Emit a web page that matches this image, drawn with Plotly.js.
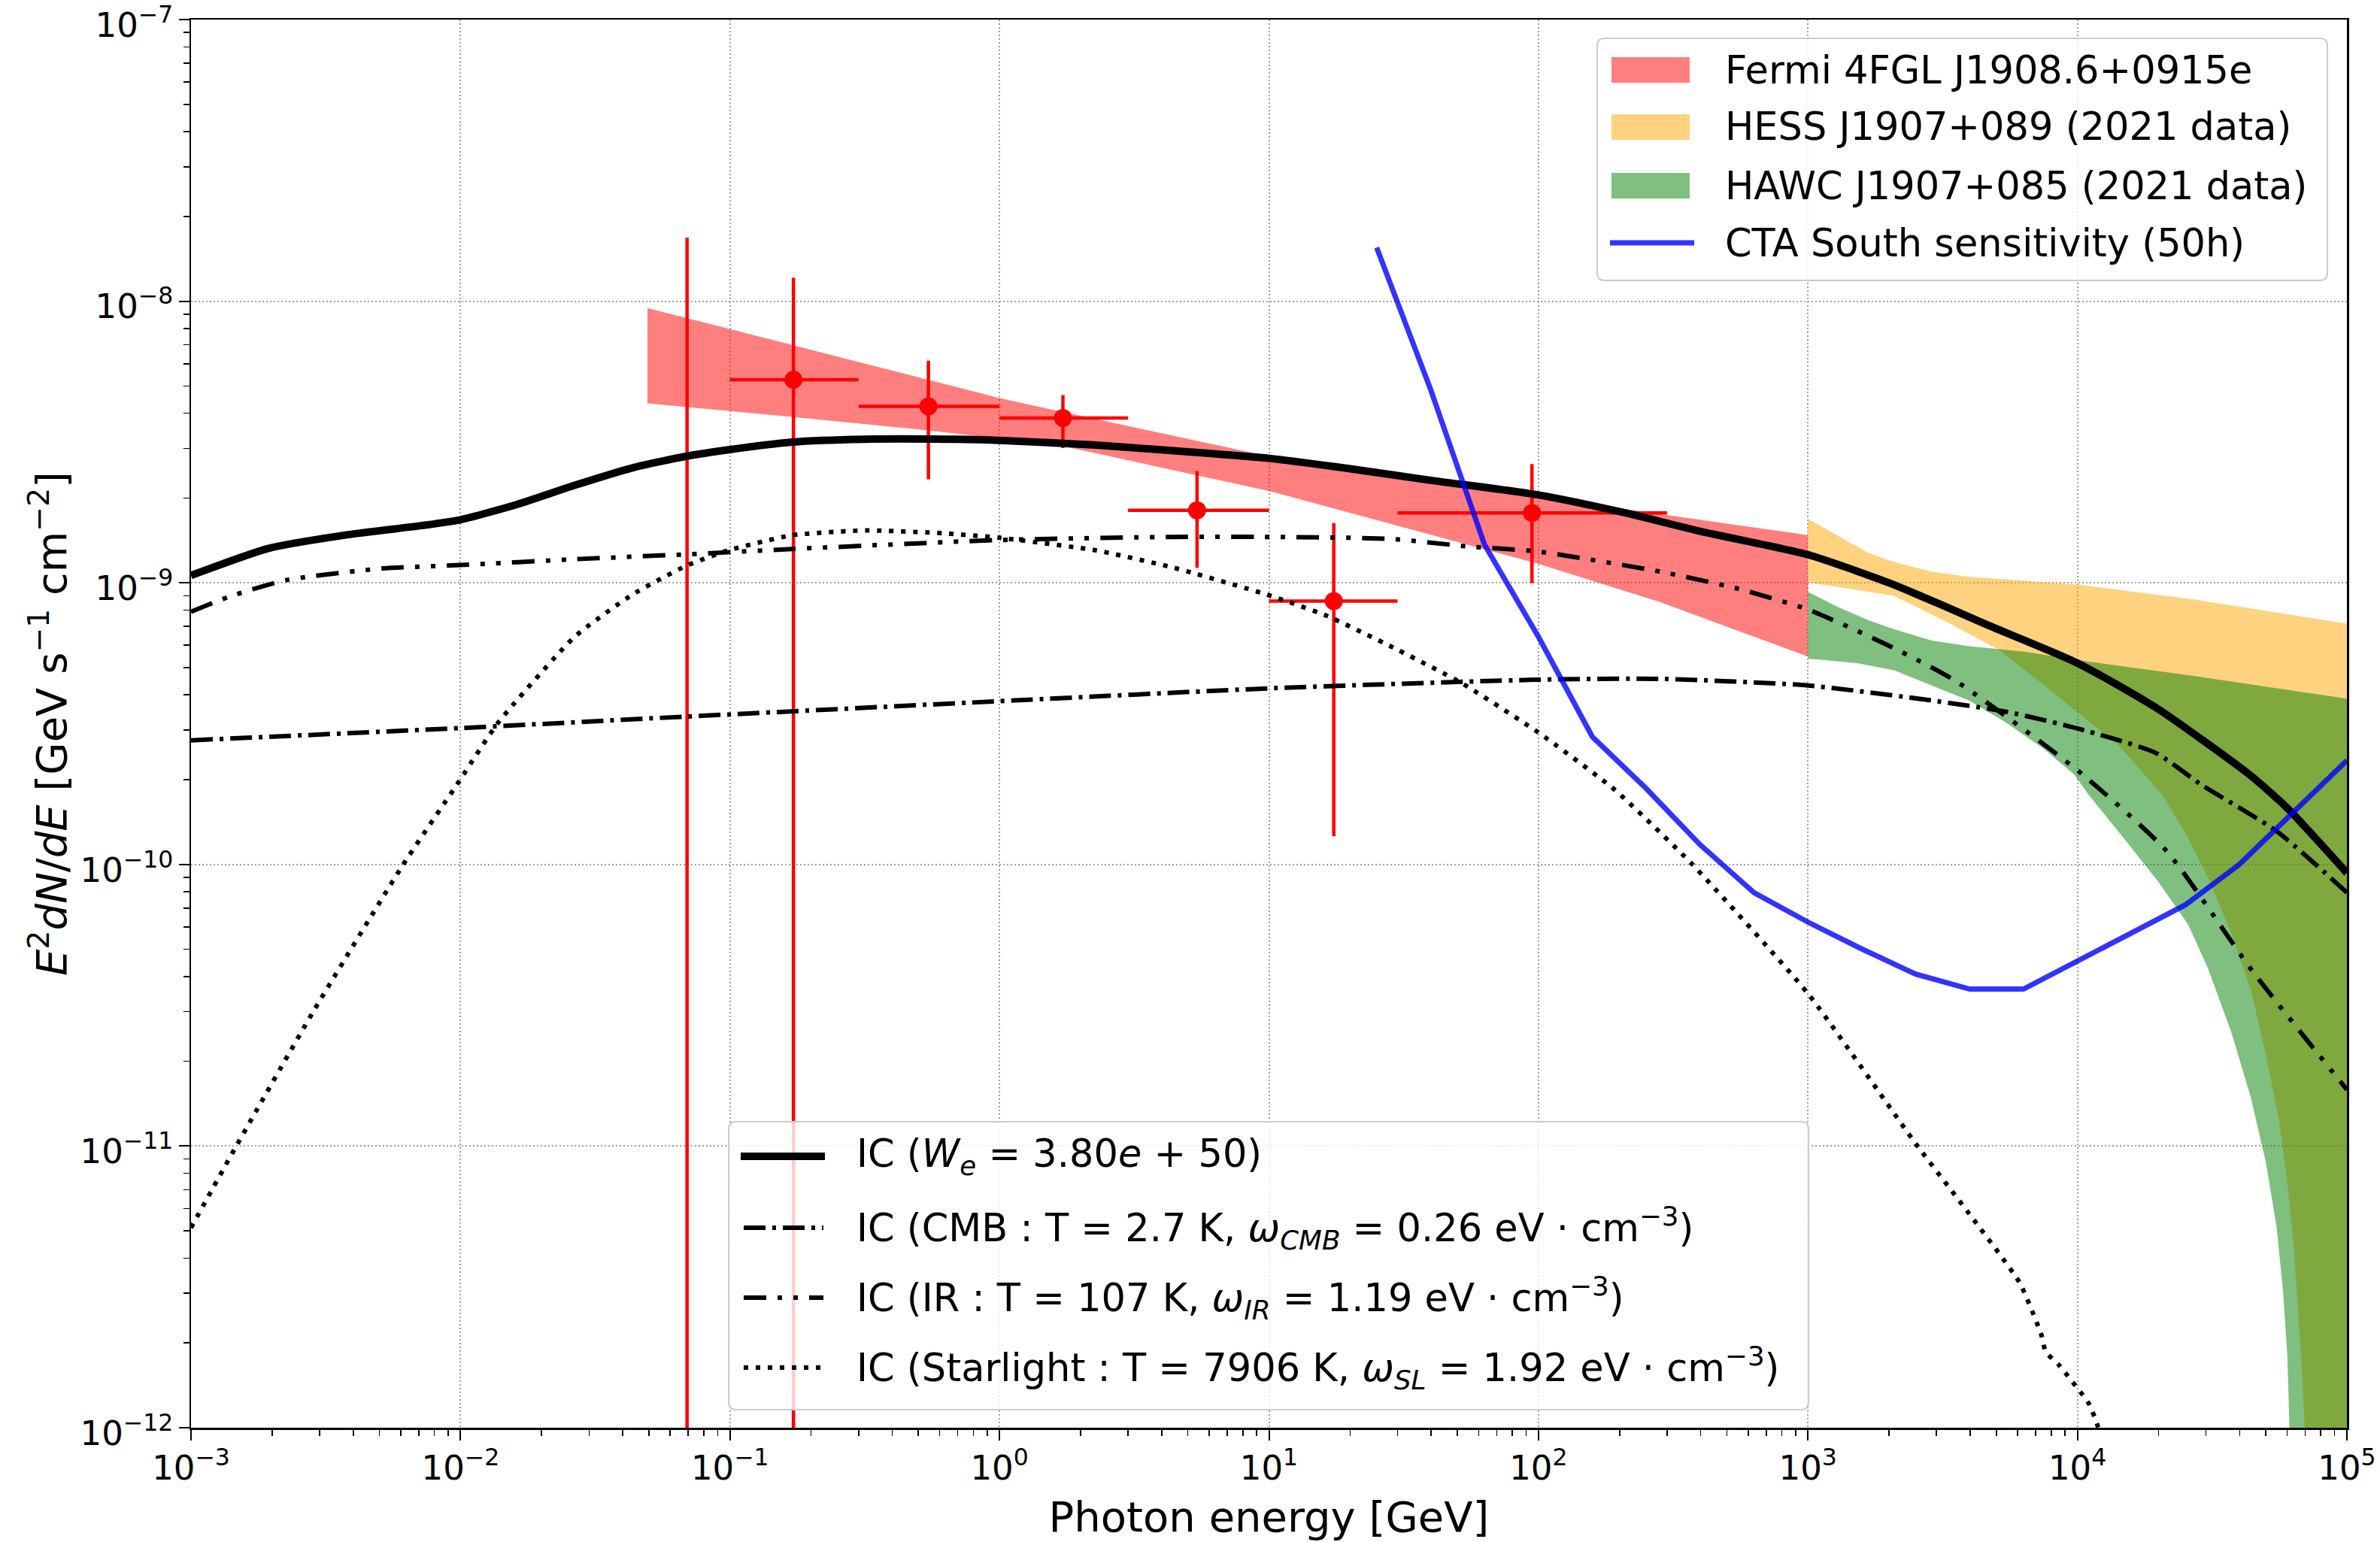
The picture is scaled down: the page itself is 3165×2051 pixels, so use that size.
<!DOCTYPE html>
<html>
<head>
<meta charset="utf-8">
<script src="https://cdn.plot.ly/plotly-3.0.1.min.js"></script>
<style>
  html, body { margin: 0; padding: 0; background: #ffffff; }
  #sed { width: 3165px; height: 2051px; }
</style>
</head>
<body>
<div id="sed"></div>
<script>
// ---------- Spectral energy distribution data (E in GeV, E^2 dN/dE in GeV s^-1 cm^-2) ----------

// Total inverse-Compton model
const icEnergy = [1e-3, 1.93e-3, 3.71e-3, 7.14e-3, 0.01, 0.0162, 0.0265, 0.0434, 0.0686, 0.1, 0.17, 0.316, 0.631, 1,
  2.29, 4.42, 10, 20, 39.8, 100, 204, 398, 1000, 1995, 3162, 4645, 1e4, 1.96e4, 4.36e4, 6.01e4, 1e5];
const icTotal = [1.062e-9, 1.324e-9, 1.476e-9, 1.596e-9, 1.675e-9, 1.897e-9, 2.218e-9, 2.559e-9, 2.812e-9, 2.972e-9,
  3.162e-9, 3.236e-9, 3.236e-9, 3.206e-9, 3.083e-9, 2.944e-9, 2.767e-9, 2.541e-9, 2.312e-9, 2.051e-9, 1.782e-9,
  1.524e-9, 1.259e-9, 1.0e-9, 8.32e-10, 7.08e-10, 5.19e-10, 3.60e-10, 2.08e-10, 1.585e-10, 9.33e-11];

// IC on the CMB
const cmbEnergy = [1e-3, 0.01, 0.0686, 1, 10, 100, 282, 1000, 2884, 5495, 1e4, 1.95e4, 2.88e4, 5.5e4, 1e5];
const cmbFlux = [2.76e-10, 3.05e-10, 3.35e-10, 3.80e-10, 4.22e-10, 4.53e-10, 4.56e-10, 4.32e-10, 3.82e-10, 3.48e-10,
  3.04e-10, 2.49e-10, 1.92e-10, 1.31e-10, 7.94e-11];

// IC on the infrared field
const irEnergy = [1e-3, 1.387e-3, 2.27e-3, 5.15e-3, 0.01, 0.0265, 0.0686, 0.17, 1, 4.42, 10, 28.2, 55, 100, 282, 550,
  1000, 2042, 3548, 1e4, 2.14e4, 4.47e4, 1e5];
const irFlux = [7.89e-10, 8.93e-10, 1.023e-9, 1.125e-9, 1.156e-9, 1.213e-9, 1.262e-9, 1.318e-9, 1.419e-9, 1.455e-9,
  1.455e-9, 1.432e-9, 1.346e-9, 1.291e-9, 1.096e-9, 9.53e-10, 8.04e-10, 5.92e-10, 4.47e-10, 2.16e-10, 1.117e-10,
  4.17e-11, 1.585e-11];

// IC on starlight
const slEnergy = [1e-3, 1.466e-3, 2.84e-3, 6.11e-3, 9.59e-3, 0.01377, 0.0265, 0.0434, 0.0686, 0.0984, 0.17, 0.3206,
  0.6166, 1, 2.29, 4.42, 9.84, 16.37, 28.4, 51.6, 100, 191.4, 370.7, 1000, 2523, 4074, 6109, 7345, 7621, 8511, 11015,
  11858, 12589];
const slFlux = [5.13e-12, 9.93e-12, 3.0e-11, 9.95e-11, 1.89e-10, 3.18e-10, 6.43e-10, 9.08e-10, 1.148e-9, 1.303e-9,
  1.476e-9, 1.535e-9, 1.500e-9, 1.445e-9, 1.303e-9, 1.132e-9, 9.08e-10, 7.64e-10, 5.94e-10, 4.42e-10, 2.94e-10,
  1.845e-10, 1.005e-10, 3.48e-11, 1.014e-11, 5.56e-12, 3.27e-12, 2.14e-12, 1.86e-12, 1.675e-12, 1.219e-12,
  1.023e-12, 8.0e-13];

// Fermi-LAT butterfly
const fermiEnergy = [0.0494, 0.17, 0.537, 1, 1.66, 10, 20.6, 100, 284, 1000];
const fermiUpper = [9.46e-9, 6.98e-9, 5.27e-9, 4.53e-9, 4.07e-9, 2.81e-9, 2.48e-9, 2.02e-9, 1.754e-9, 1.476e-9];
const fermiLower = [4.34e-9, 3.88e-9, 3.48e-9, 3.26e-9, 3.08e-9, 2.12e-9, 1.754e-9, 1.167e-9, 8.53e-10, 5.47e-10];

// H.E.S.S. band
const hessUpperEnergy = [1000, 1294, 1671, 2089, 2877, 3963, 6397, 1e4, 26977, 1e5];
const hessUpper = [1.687e-9, 1.469e-9, 1.279e-9, 1.186e-9, 1.096e-9, 1.05e-9, 1.016e-9, 9.86e-10, 8.73e-10, 7.16e-10];
const hessLowerEnergy = [1000, 2089, 3381, 5117, 7516, 1e4, 14223, 20654, 25763, 30974, 37239, 43954, 50003, 55847,
  60117, 63533, 65917, 68391, 69663, 79433, 1e5];
const hessLower = [1.002e-9, 8.99e-10, 7.14e-10, 5.78e-10, 4.33e-10, 3.48e-10, 2.65e-10, 1.766e-10, 1.242e-10,
  8.71e-11, 5.70e-11, 3.61e-11, 2.12e-11, 1.253e-11, 7.38e-12, 4.35e-12, 2.56e-12, 1.507e-12, 1.0e-12, 1e-14, 1e-14];

// HAWC band
const hawcUpperEnergy = [1000, 1294, 1671, 2089, 2877, 3963, 6397, 1e4, 26977, 1e5];
const hawcUpper = [9.29e-10, 8.20e-10, 7.38e-10, 6.84e-10, 6.24e-10, 5.96e-10, 5.69e-10, 5.32e-10, 4.67e-10, 3.88e-10];
const hawcLowerEnergy = [1000, 1521, 2089, 2877, 3963, 5458, 7516, 9705, 11015, 14825, 19907, 25763, 30409, 37239,
  43954, 50003, 54828, 57943, 60117, 61235, 67608, 1e5];
const hawcLower = [5.38e-10, 5.19e-10, 4.89e-10, 4.32e-10, 3.82e-10, 3.18e-10, 2.57e-10, 2.09e-10, 1.766e-10,
  1.242e-10, 8.71e-11, 6.12e-11, 4.31e-11, 2.54e-11, 1.493e-11, 8.79e-12, 5.18e-12, 3.05e-12, 1.80e-12, 1.0e-12,
  1e-14, 1e-14];

// CTA South 50 h sensitivity
const ctaEnergy = [25.1, 39.8, 63.1, 100, 158.5, 251, 398, 631, 1000, 1585, 2512, 3981, 6310, 1e4, 15850, 25120,
  39810, 63100, 1e5];
const ctaFlux = [1.55e-8, 4.86e-9, 1.365e-9, 6.43e-10, 2.84e-10, 1.86e-10, 1.175e-10, 7.94e-11, 6.24e-11, 5.01e-11,
  4.08e-11, 3.61e-11, 3.61e-11, 4.54e-11, 5.75e-11, 7.18e-11, 9.98e-11, 1.528e-10, 2.34e-10];

// Fermi-LAT flux points with bin edges and flux errors
const ptEnergy = [0.0693, 0.172, 0.545, 1.72, 5.41, 17.4, 94.6];
const ptEnergyLow = [0.05, 0.1, 0.3, 1, 3, 10, 30];
const ptEnergyHigh = [0.1, 0.3, 1, 3, 10, 30, 300];
const ptFlux = [5e-13, 5.26e-9, 4.23e-9, 3.85e-9, 1.81e-9, 8.61e-10, 1.77e-9];
const ptFluxLow = [1e-14, 1e-14, 2.33e-9, 3.01e-9, 1.13e-9, 1.26e-10, 9.98e-10];
const ptFluxHigh = [1.68e-8, 1.21e-8, 6.15e-9, 4.64e-9, 2.49e-9, 1.63e-9, 2.64e-9];

// Tick labels
const xTickAlias = {'1': '10<sup>0</sup>', '10': '10<sup>1</sup>'};

// ---------- Styles ----------
const FONT = 'DejaVu Sans';
const RED_FILL = 'rgba(255,0,0,0.5)';
const ORANGE_FILL = 'rgba(255,165,0,0.5)';
const GREEN_FILL = 'rgba(0,128,0,0.5)';
const CTA_BLUE = 'rgba(0,0,255,0.8)';
const DASH_CMB = '29px,9px,5px,9px';
const DASH_IR = '30px,15px,6px,15px,6px,15px';
const DASH_SL = '6px,10px';

// closed polygon of a band: upper edge left-to-right, lower edge right-to-left
function band(xu, yu, xl, yl) {
  return {x: xu.concat(xl.slice().reverse()), y: yu.concat(yl.slice().reverse())};
}
const fermiBand = band(fermiEnergy, fermiUpper, fermiEnergy, fermiLower);
const hessBand = band(hessUpperEnergy, hessUpper, hessLowerEnergy, hessLower);
const hawcBand = band(hawcUpperEnergy, hawcUpper, hawcLowerEnergy, hawcLower);

const traces = [
  {x: fermiBand.x, y: fermiBand.y, type: 'scatter', mode: 'lines', fill: 'toself', fillcolor: RED_FILL,
   line: {width: 0, color: RED_FILL}, showlegend: false, hoverinfo: 'skip'},
  {x: hessBand.x, y: hessBand.y, type: 'scatter', mode: 'lines', fill: 'toself', fillcolor: ORANGE_FILL,
   line: {width: 0, color: ORANGE_FILL}, showlegend: false, hoverinfo: 'skip'},
  {x: hawcBand.x, y: hawcBand.y, type: 'scatter', mode: 'lines', fill: 'toself', fillcolor: GREEN_FILL,
   line: {width: 0, color: GREEN_FILL}, showlegend: false, hoverinfo: 'skip'},
  {x: ptEnergy, y: ptFlux, type: 'scatter', mode: 'markers',
   marker: {color: 'red', size: 24},
   error_x: {type: 'data', symmetric: false,
     array: ptEnergy.map((e, i) => ptEnergyHigh[i] - e),
     arrayminus: ptEnergy.map((e, i) => e - ptEnergyLow[i]),
     color: 'red', thickness: 4.5, width: 0},
   error_y: {type: 'data', symmetric: false,
     array: ptFlux.map((f, i) => ptFluxHigh[i] - f),
     arrayminus: ptFlux.map((f, i) => f - ptFluxLow[i]),
     color: 'red', thickness: 4.5, width: 0},
   showlegend: false},
  {x: icEnergy, y: icTotal, type: 'scatter', mode: 'lines',
   line: {color: 'black', width: 10, shape: 'spline', smoothing: 0.6}, showlegend: false},
  {x: cmbEnergy, y: cmbFlux, type: 'scatter', mode: 'lines',
   line: {color: 'black', width: 6, dash: DASH_CMB, shape: 'spline', smoothing: 0.6}, showlegend: false},
  {x: irEnergy, y: irFlux, type: 'scatter', mode: 'lines',
   line: {color: 'black', width: 6, dash: DASH_IR, shape: 'spline', smoothing: 0.6}, showlegend: false},
  {x: slEnergy, y: slFlux, type: 'scatter', mode: 'lines',
   line: {color: 'black', width: 6, dash: DASH_SL, shape: 'spline', smoothing: 0.5}, showlegend: false},
  {x: ctaEnergy, y: ctaFlux, type: 'scatter', mode: 'lines',
   line: {color: CTA_BLUE, width: 7}, showlegend: false}
];

// ---------- Legend boxes drawn in plot-area pixel units ----------
const AREA = {l: 254, t: 26, w: 2867, h: 1873};
const fx = p => (p - AREA.l) / AREA.w;
const fy = p => 1 - (p - AREA.t) / AREA.h;

function roundedBox(x0, y0, x1, y1, r) {
  const rx = r / AREA.w, ry = r / AREA.h;
  const X0 = fx(x0), X1 = fx(x1), YT = fy(y0), YB = fy(y1);
  const path = `M${X0 + rx},${YT} L${X1 - rx},${YT} Q${X1},${YT} ${X1},${YT - ry} ` +
    `L${X1},${YB + ry} Q${X1},${YB} ${X1 - rx},${YB} L${X0 + rx},${YB} Q${X0},${YB} ${X0},${YB + ry} ` +
    `L${X0},${YT - ry} Q${X0},${YT} ${X0 + rx},${YT} Z`;
  return {type: 'path', xref: 'paper', yref: 'paper', path: path, layer: 'above',
    fillcolor: 'rgba(255,255,255,0.8)', line: {color: '#cccccc', width: 2}};
}
function patch(x0, x1, yc, h, color) {
  return {type: 'rect', xref: 'paper', yref: 'paper', layer: 'above',
    x0: fx(x0), x1: fx(x1), y0: fy(yc + h / 2), y1: fy(yc - h / 2),
    fillcolor: color, line: {width: 0}};
}
function sample(x0, x1, yc, color, width, dash) {
  return {type: 'line', xref: 'paper', yref: 'paper', layer: 'above',
    x0: fx(x0), x1: fx(x1), y0: fy(yc), y1: fy(yc),
    line: {color: color, width: width, dash: dash || 'solid'}};
}
function label(x, yc, text) {
  return {xref: 'paper', yref: 'paper', x: fx(x), y: fy(yc), xanchor: 'left', yanchor: 'middle',
    text: text, showarrow: false, font: {family: FONT, size: 51, color: 'black'}};
}

const dataLegendRows = [93, 169, 247, 323];
const modelLegendRows = [1538, 1633, 1726, 1819];

const shapes = [
  roundedBox(2124, 51, 3095, 373, 10),
  patch(2143, 2247, dataLegendRows[0], 34, RED_FILL),
  patch(2143, 2247, dataLegendRows[1], 34, ORANGE_FILL),
  patch(2143, 2247, dataLegendRows[2], 34, GREEN_FILL),
  sample(2141, 2253, dataLegendRows[3], CTA_BLUE, 7),
  roundedBox(969, 1492, 2405, 1875, 10),
  sample(985, 1097, modelLegendRows[0], 'black', 10),
  sample(989, 1095, modelLegendRows[1], 'black', 6, DASH_CMB),
  sample(989, 1095, modelLegendRows[2], 'black', 6, DASH_IR),
  sample(989, 1095, modelLegendRows[3], 'black', 6, DASH_SL)
];

const annotations = [
  label(2292, dataLegendRows[0], 'Fermi 4FGL J1908.6+0915e'),
  label(2292, dataLegendRows[1], 'HESS J1907+089 (2021 data)'),
  label(2292, dataLegendRows[2], 'HAWC J1907+085 (2021 data)'),
  label(2292, dataLegendRows[3], 'CTA South sensitivity (50h)'),
  label(1137, modelLegendRows[0], 'IC (<i>W</i><sub><i>e</i></sub> = 3.80<i>e</i> + 50)'),
  label(1137, modelLegendRows[1], 'IC (CMB : T = 2.7 K, <i>ω</i><sub><i>CMB</i></sub> = 0.26 eV · cm<sup>−3</sup>)'),
  label(1137, modelLegendRows[2], 'IC (IR : T = 107 K, <i>ω</i><sub><i>IR</i></sub> = 1.19 eV · cm<sup>−3</sup>)'),
  label(1137, modelLegendRows[3], 'IC (Starlight : T = 7906 K, <i>ω</i><sub><i>SL</i></sub> = 1.92 eV · cm<sup>−3</sup>)')
];

function logAxis(range, titleText, standoff, extra) {
  const ax = {
    type: 'log', range: range, dtick: 1, exponentformat: 'power', showexponent: 'all',
    ticks: 'outside', ticklen: 14, tickwidth: 2, tickcolor: 'black',
    tickfont: {family: FONT, size: 36, color: 'black'},
    ticklabeloverflow: 'allow',
    showline: true, linewidth: 2.5, linecolor: 'black', mirror: true,
    showgrid: true, gridcolor: '#a0a0a0', gridwidth: 2, griddash: '2px,3px',
    zeroline: false, automargin: false,
    minor: {ticks: 'outside', ticklen: 8, tickwidth: 1.6, tickcolor: 'black', dtick: 'D1', showgrid: false},
    title: {text: titleText, font: {family: FONT, size: 56, color: 'black'}, standoff: standoff}
  };
  return Object.assign(ax, extra || {});
}

const layout = {
  width: 3165, height: 2051, autosize: false,
  margin: {l: AREA.l, r: 3165 - AREA.l - AREA.w, t: AREA.t, b: 2051 - AREA.t - AREA.h, pad: 0},
  paper_bgcolor: 'white', plot_bgcolor: 'white',
  font: {family: FONT, color: 'black'},
  showlegend: false,
  xaxis: logAxis([-3, 5], 'Photon energy [GeV]', 20, {labelalias: xTickAlias}),
  yaxis: logAxis([-12, -7], '<i>E</i><sup>2</sup><i>dN</i>/<i>dE</i> [GeV s<sup>−1</sup> cm<sup>−2</sup>]', 0,
    {ticklabelshift: 7}),
  shapes: shapes,
  annotations: annotations
};

Plotly.newPlot('sed', traces, layout, {staticPlot: true, displayModeBar: false});
</script>
</body>
</html>
